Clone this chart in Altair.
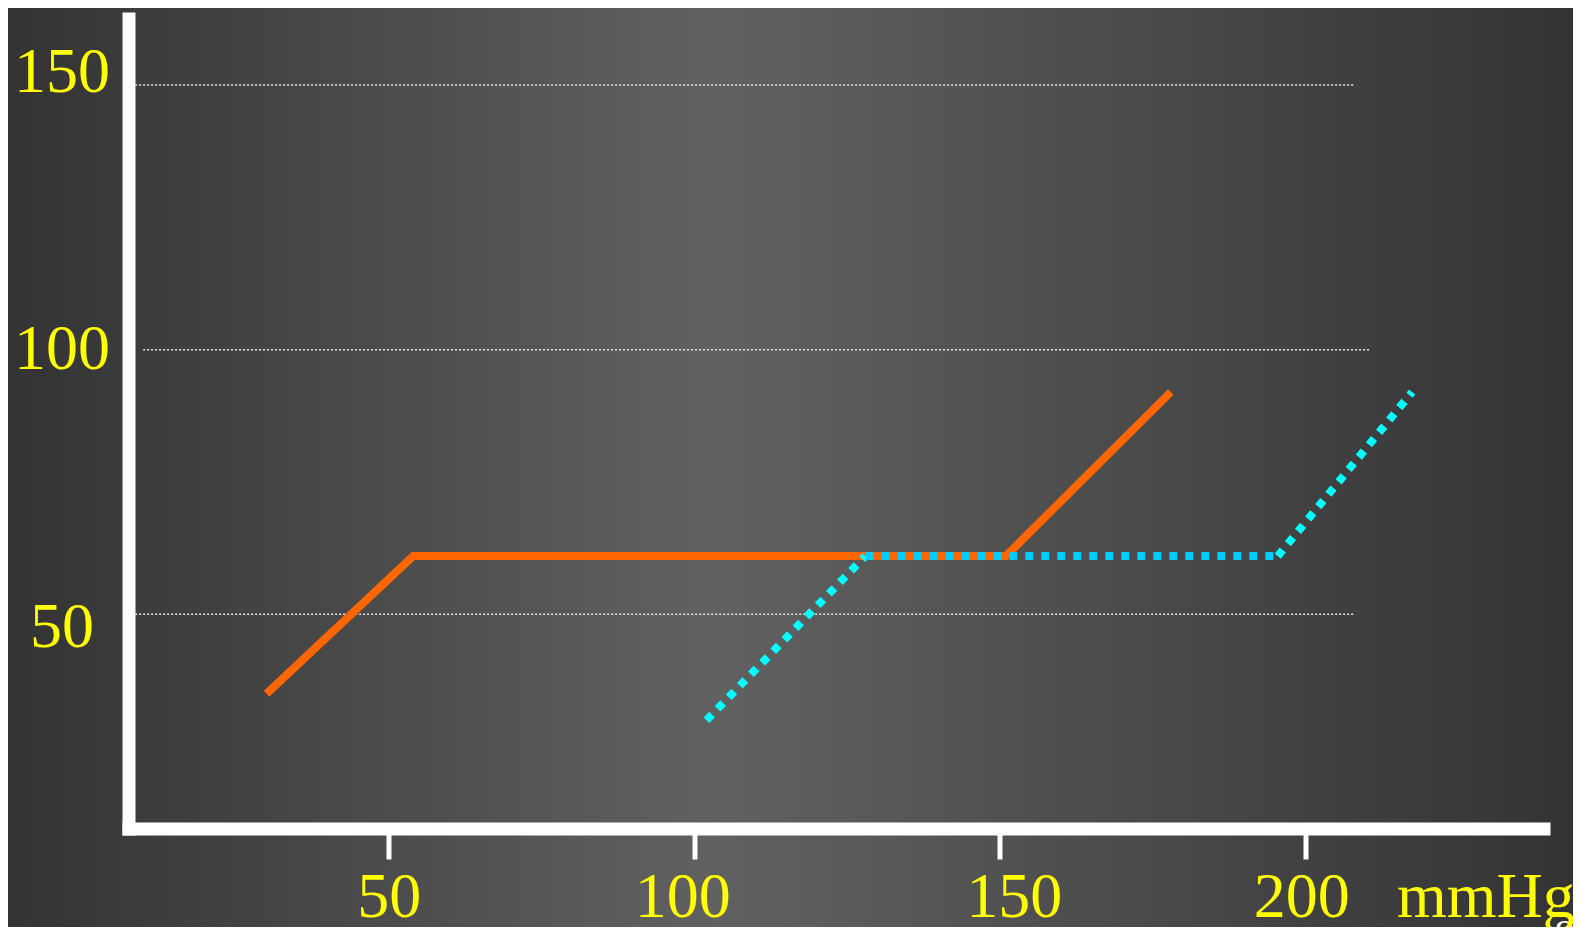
import altair as alt
import pandas as pd

# ---- data ----
x_ticks = [50, 100, 150, 200]
y_ticks = [50, 100, 150]

orange_x = [30, 54, 151, 178]
orange_y = [35, 61, 61, 92]

cyan_x = [102, 128, 195.5, 217.5]
cyan_y = [30, 61, 61, 92]
cyan_colors = ["#00ffff", "#00ccff", "#00ffff"]

grid_y = [50, 100, 150]
grid_x_start = [8.5, 9.8, 8.5]
grid_x_end = [208.1, 210.6, 208.1]

x_title = "mmHg"
page_number = "9"

# ---- frames ----
orange_df = pd.DataFrame({"x": orange_x, "y": orange_y})
cyan_df = pd.DataFrame({
    "x": cyan_x[:-1], "x2": cyan_x[1:],
    "y": cyan_y[:-1], "y2": cyan_y[1:],
    "c": cyan_colors,
})
grid_df = pd.DataFrame({"y": grid_y, "x": grid_x_start, "x2": grid_x_end})

W, H = 1415, 810
PAD = {"left": 120.5, "top": 10.5, "right": 29.5, "bottom": 98.5}
FONT = "Liberation Serif"
YELLOW = "#ffff00"

xscale = alt.Scale(domain=[7.406, 239.0], nice=False, zero=False)
yscale = alt.Scale(domain=[9.54, 162.57], nice=False, zero=False)

x_label_offset = {
    "condition": [
        {"test": "datum.value == 100", "value": -12},
        {"test": "datum.value == 150", "value": 14},
        {"test": "datum.value == 200", "value": -4},
    ],
    "value": 0,
}
y_label_offset = {
    "condition": [
        {"test": "datum.value == 150", "value": -13},
        {"test": "datum.value == 50", "value": 13},
    ],
    "value": 0,
}

xaxis = alt.Axis(
    values=x_ticks, grid=False, zindex=1,
    domainColor="white", domainWidth=13, domainCap="square",
    tickColor="white", tickWidth=5, tickSize=30.5,
    labelColor=YELLOW, labelFont=FONT, labelFontSize=64,
    labelBaseline="alphabetic", labelPadding=57, labelFlush=False,
    labelOverlap=False, labelOffset=x_label_offset,
    title=x_title, titleColor=YELLOW, titleFont=FONT, titleFontSize=64,
    titleFontWeight="normal", titleAlign="left", titleBaseline="alphabetic",
    titleX=1268, titleY=87.5, titleAnchor="start",
)
yaxis = alt.Axis(
    values=y_ticks, grid=False, zindex=1,
    domainColor="white", domainWidth=13, domainCap="square",
    ticks=False, tickSize=0,
    labelColor=YELLOW, labelFont=FONT, labelFontSize=64,
    labelAlign="center", labelBaseline="middle", labelPadding=67,
    labelFlush=False, labelOverlap=False, labelOffset=y_label_offset,
    title=None,
)

bg = alt.Chart(pd.DataFrame({"a": [0]})).mark_rect(
    color=alt.LinearGradient(
        gradient="linear", x1=0, x2=1, y1=0, y2=0,
        stops=[
            alt.GradientStop(offset=0, color="#333333"),
            alt.GradientStop(offset=0.45, color="#616161"),
            alt.GradientStop(offset=1, color="#333333"),
        ],
    )
).encode(
    x=alt.value(-PAD["left"]), x2=alt.value(W + PAD["right"]),
    y=alt.value(-PAD["top"]), y2=alt.value(H + PAD["bottom"]),
)

grid = alt.Chart(grid_df).mark_rule(
    color="#e6e6e6", strokeWidth=1.5, strokeDash=[2, 2]
).encode(
    x=alt.X("x:Q", scale=xscale, axis=xaxis),
    x2="x2:Q",
    y=alt.Y("y:Q", scale=yscale, axis=yaxis),
)

orange = alt.Chart(orange_df).mark_line(
    color="#ff6600", strokeWidth=8, strokeCap="butt", strokeJoin="miter"
).encode(
    x=alt.X("x:Q", scale=xscale),
    y=alt.Y("y:Q", scale=yscale),
    order=alt.Order("x:Q"),
)

cyan = alt.Chart(cyan_df).mark_rule(
    strokeWidth=8, strokeDash=[8, 8], strokeCap="butt"
).encode(
    x=alt.X("x:Q", scale=xscale),
    x2="x2:Q",
    y=alt.Y("y:Q", scale=yscale),
    y2="y2:Q",
    color=alt.Color("c:N", scale=None),
)

pnum = alt.Chart(pd.DataFrame({"t": [page_number]})).mark_text(
    color="white", font=FONT, fontSize=40, align="left", baseline="top"
).encode(
    text="t:N",
    x=alt.value(1426.5), y=alt.value(896.5),
)

chart = alt.layer(bg, grid, orange, cyan, pnum).properties(
    width=W, height=H,
    autosize=alt.AutoSizeParams(type="none"),
    padding=PAD,
    background="#333333",
).configure_view(stroke=None)

chart.save("out.html", embed_options={"renderer": "svg", "actions": False})
